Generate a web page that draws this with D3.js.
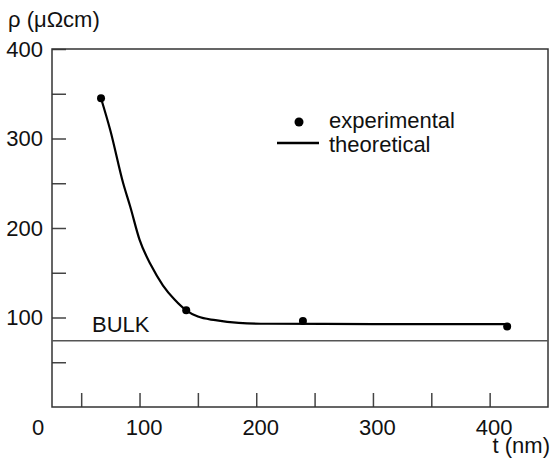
<!DOCTYPE html>
<html>
<head>
<meta charset="utf-8">
<script src="https://cdn.jsdelivr.net/npm/d3@7"></script>
<style>
  html, body { margin: 0; padding: 0; background: #fff; }
  svg { display: block; font-family: "Liberation Sans", Arial, sans-serif; }
</style>
</head>
<body>
<svg id="chart" width="552" height="461"></svg>
<script>
// Film thickness t (nm) and resistivity rho (µΩcm)
const expT   = [67, 140, 240, 415];
const expRho = [345, 108, 96, 90];

const theoT   = [67, 75, 86, 92, 100, 110, 120, 130, 140, 150, 165, 185, 210, 300, 415];
const theoRho = [345, 309, 250, 224, 187, 158, 136, 120, 108, 101, 97, 94, 93, 92.7, 92.5];

const bulkRho = 74;

const xTicks = [50, 100, 150, 200, 250, 300, 350, 400];
const yTicks = [50, 100, 150, 200, 250, 300, 350, 400];
const labelledTicks = [100, 200, 300, 400];

const FS = 22;
const svg = d3.select("#chart");
const plotL = 52, plotR = 548, plotT = 49, plotB = 407;

const x = d3.scaleLinear().domain([25, 450]).range([plotL, plotR]);
const y = d3.scaleLinear().domain([0, 400]).range([plotB, plotT]);

const fmt = d => labelledTicks.includes(d) ? String(d) : "";

// x axis with inward ticks
const gx = svg.append("g")
  .attr("transform", `translate(0,${plotB})`)
  .call(d3.axisBottom(x).tickValues(xTicks).tickFormat(fmt)
    .tickSizeInner(-14).tickSizeOuter(0).tickPadding(12));
gx.select(".domain").remove();
gx.selectAll(".tick line").attr("stroke", "#444").attr("stroke-width", 1.5);
gx.selectAll(".tick text").attr("font-size", FS).attr("fill", "#111").attr("dx", 4)
  .attr("font-family", "Liberation Sans, Arial, sans-serif");

// y axis with inward ticks
const gy = svg.append("g")
  .attr("transform", `translate(${plotL},0)`)
  .call(d3.axisLeft(y).tickValues(yTicks).tickFormat(fmt)
    .tickSizeInner(-14).tickSizeOuter(0).tickPadding(9));
gy.select(".domain").remove();
gy.selectAll(".tick line").attr("stroke", "#444").attr("stroke-width", 1.5);
gy.selectAll(".tick text").attr("font-size", FS).attr("fill", "#111")
  .attr("font-family", "Liberation Sans, Arial, sans-serif");

// frame
svg.append("rect")
  .attr("x", plotL).attr("y", plotT)
  .attr("width", plotR - plotL).attr("height", plotB - plotT)
  .attr("fill", "none").attr("stroke", "#333").attr("stroke-width", 1.5);

// origin label
svg.append("text").attr("x", 38).attr("y", 435)
  .attr("text-anchor", "middle").attr("font-size", FS).attr("fill", "#111").text("0");

// axis titles
svg.append("text").attr("x", 8).attr("y", 27)
  .attr("font-size", FS).attr("fill", "#111").text("ρ (μΩcm)");
svg.append("text").attr("x", 550).attr("y", 453)
  .attr("text-anchor", "end").attr("font-size", FS).attr("fill", "#111").text("t (nm)");

// bulk resistivity
svg.append("line")
  .attr("x1", plotL).attr("x2", plotR)
  .attr("y1", y(bulkRho)).attr("y2", y(bulkRho))
  .attr("stroke", "#555").attr("stroke-width", 1.5);
svg.append("text").attr("x", 92).attr("y", 332)
  .attr("font-size", FS).attr("fill", "#111").text("BULK");

// theoretical curve
const line = d3.line()
  .x((d, i) => x(theoT[i]))
  .y((d, i) => y(theoRho[i]))
  .curve(d3.curveMonotoneX);
svg.append("path")
  .attr("d", line(theoT))
  .attr("fill", "none").attr("stroke", "#000").attr("stroke-width", 2.2);

// experimental points
svg.append("g").selectAll("circle")
  .data(expT)
  .join("circle")
  .attr("cx", (d) => x(d))
  .attr("cy", (d, i) => y(expRho[i]))
  .attr("r", 4)
  .attr("fill", "#000");

// legend
const lg = svg.append("g");
lg.append("circle").attr("cx", 299).attr("cy", 122).attr("r", 4.5).attr("fill", "#000");
lg.append("text").attr("x", 329).attr("y", 128)
  .attr("font-size", FS).attr("fill", "#111").text("experimental");
lg.append("line").attr("x1", 277).attr("x2", 319).attr("y1", 143).attr("y2", 143)
  .attr("stroke", "#000").attr("stroke-width", 2.5);
lg.append("text").attr("x", 329).attr("y", 152)
  .attr("font-size", FS).attr("fill", "#111").text("theoretical");
</script>
</body>
</html>
